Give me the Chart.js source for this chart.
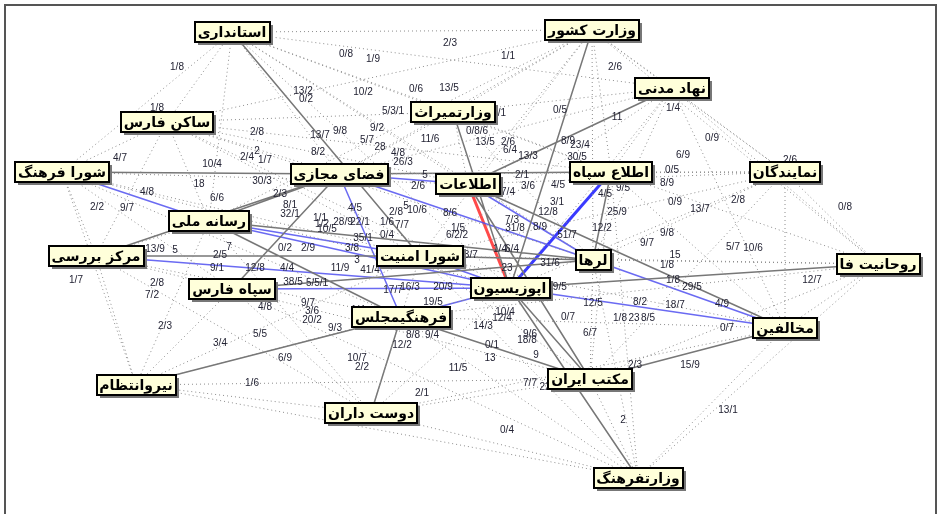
<!DOCTYPE html>
<html>
<head>
<meta charset="utf-8">
<script src="https://cdn.jsdelivr.net/npm/chart.js@4.4.0/dist/chart.umd.min.js"></script>
<style>
  html, body { margin: 0; padding: 0; background: #fff; }
  #wrap { width: 942px; height: 514px; }
</style>
</head>
<body>
<div id="wrap"><canvas id="myChart"></canvas></div>
<script>
// nodes of the network and their layout position
var nodes = ['استانداری', 'وزارت کشور', 'نهاد مدنی', 'ساکن فارس', 'وزارتمیراث', 'شورا فرهنگ',
  'فضای مجازی', 'اطلاعات', 'اطلاع سپاه', 'نمایندگان', 'رسانه ملی', 'مرکز بررسی', 'شورا امنیت',
  'لرها', 'روحانیت فا', 'سپاه فارس', 'اپوزیسیون', 'فرهنگیمجلس', 'مخالفین', 'نیروانتظام',
  'مکتب ایران', 'دوست داران', 'وزارتفرهنگ'];
var nodeX = [232, 592, 672, 167, 453, 62, 339, 468, 611, 785, 209, 96, 420, 593, 878, 232, 510, 401, 785, 136, 590, 371, 638];
var nodeY = [32, 30, 88, 122, 112, 172, 174, 184, 172, 172, 221, 256, 256, 260, 264, 289, 288, 317, 328, 385, 379, 413, 478];

// solid grey links
var greyEdges = [
  ['استانداری', 'شورا امنیت'], ['شورا فرهنگ', 'فضای مجازی'], ['فضای مجازی', 'اطلاع سپاه'],
  ['وزارت کشور', 'اپوزیسیون'], ['نهاد مدنی', 'اطلاعات'], ['وزارتمیراث', 'اپوزیسیون'],
  ['رسانه ملی', 'فضای مجازی'], ['مرکز بررسی', 'فضای مجازی'], ['سپاه فارس', 'فضای مجازی'],
  ['اطلاعات', 'مخالفین'], ['اطلاع سپاه', 'لرها'], ['اپوزیسیون', 'روحانیت فا'],
  ['فرهنگیمجلس', 'مکتب ایران'], ['اپوزیسیون', 'وزارتفرهنگ'], ['اپوزیسیون', 'مکتب ایران'],
  ['مکتب ایران', 'مخالفین'], ['فرهنگیمجلس', 'نیروانتظام'], ['فرهنگیمجلس', 'دوست داران'],
  ['شورا امنیت', 'لرها'], ['رسانه ملی', 'فرهنگیمجلس'], ['رسانه ملی', 'لرها'],
  ['سپاه فارس', 'لرها'], ['مرکز بررسی', 'شورا امنیت'], ['اطلاعات', 'مکتب ایران']
];
// blue links
var blueEdges = [
  ['شورا فرهنگ', 'رسانه ملی'], ['رسانه ملی', 'شورا امنیت'], ['رسانه ملی', 'اپوزیسیون'],
  ['مرکز بررسی', 'اپوزیسیون'], ['سپاه فارس', 'اپوزیسیون'], ['فضای مجازی', 'اطلاعات'],
  ['فضای مجازی', 'لرها'], ['اطلاعات', 'لرها'], ['فضای مجازی', 'فرهنگیمجلس'],
  ['لرها', 'مخالفین'], ['اپوزیسیون', 'مخالفین'], ['فرهنگیمجلس', 'اپوزیسیون'],
  ['شورا امنیت', 'اپوزیسیون']
];
var strongBlueEdges = [['اطلاع سپاه', 'اپوزیسیون']];
var redEdges = [['اطلاعات', 'اپوزیسیون']];

// dotted (weak) links
var dottedEdges = [
  ['استانداری', 'وزارت کشور'], ['استانداری', 'ساکن فارس'], ['استانداری', 'شورا فرهنگ'], ['استانداری', 'وزارتمیراث'],
  ['استانداری', 'اطلاعات'], ['استانداری', 'اطلاع سپاه'], ['استانداری', 'نهاد مدنی'], ['استانداری', 'لرها'],
  ['استانداری', 'اپوزیسیون'], ['استانداری', 'رسانه ملی'], ['استانداری', 'فضای مجازی'],
  ['وزارت کشور', 'وزارتمیراث'], ['وزارت کشور', 'نهاد مدنی'], ['وزارت کشور', 'نمایندگان'], ['وزارت کشور', 'اطلاعات'],
  ['وزارت کشور', 'فضای مجازی'], ['وزارت کشور', 'شورا امنیت'], ['وزارت کشور', 'لرها'], ['وزارت کشور', 'ساکن فارس'],
  ['وزارت کشور', 'روحانیت فا'], ['وزارت کشور', 'اطلاع سپاه'], ['وزارت کشور', 'رسانه ملی'],
  ['نهاد مدنی', 'نمایندگان'], ['نهاد مدنی', 'روحانیت فا'], ['نهاد مدنی', 'مخالفین'], ['نهاد مدنی', 'لرها'],
  ['نهاد مدنی', 'اپوزیسیون'], ['نهاد مدنی', 'وزارتمیراث'], ['نهاد مدنی', 'فضای مجازی'], ['نهاد مدنی', 'شورا امنیت'],
  ['نهاد مدنی', 'اطلاع سپاه'],
  ['ساکن فارس', 'شورا فرهنگ'], ['ساکن فارس', 'فضای مجازی'], ['ساکن فارس', 'اطلاعات'], ['ساکن فارس', 'رسانه ملی'],
  ['ساکن فارس', 'شورا امنیت'], ['ساکن فارس', 'وزارتمیراث'], ['ساکن فارس', 'مرکز بررسی'], ['ساکن فارس', 'اپوزیسیون'],
  ['ساکن فارس', 'لرها'], ['ساکن فارس', 'اطلاع سپاه'],
  ['شورا فرهنگ', 'مرکز بررسی'], ['شورا فرهنگ', 'نیروانتظام'], ['شورا فرهنگ', 'سپاه فارس'], ['شورا فرهنگ', 'شورا امنیت'],
  ['شورا فرهنگ', 'اپوزیسیون'], ['شورا فرهنگ', 'اطلاعات'], ['شورا فرهنگ', 'فرهنگیمجلس'],
  ['وزارتمیراث', 'اطلاعات'], ['وزارتمیراث', 'فضای مجازی'], ['وزارتمیراث', 'لرها'], ['وزارتمیراث', 'اطلاع سپاه'],
  ['نمایندگان', 'روحانیت فا'], ['نمایندگان', 'مخالفین'], ['نمایندگان', 'اپوزیسیون'], ['نمایندگان', 'لرها'],
  ['نمایندگان', 'اطلاعات'], ['نمایندگان', 'فضای مجازی'], ['نمایندگان', 'مکتب ایران'], ['نمایندگان', 'شورا امنیت'],
  ['نمایندگان', 'اطلاع سپاه'],
  ['روحانیت فا', 'مخالفین'], ['روحانیت فا', 'وزارتفرهنگ'], ['روحانیت فا', 'مکتب ایران'], ['روحانیت فا', 'لرها'],
  ['روحانیت فا', 'اطلاع سپاه'], ['روحانیت فا', 'شورا امنیت'], ['روحانیت فا', 'فرهنگیمجلس'],
  ['مخالفین', 'وزارتفرهنگ'], ['مخالفین', 'دوست داران'], ['مخالفین', 'فرهنگیمجلس'], ['مخالفین', 'شورا امنیت'],
  ['مخالفین', 'اطلاع سپاه'],
  ['وزارتفرهنگ', 'مکتب ایران'], ['وزارتفرهنگ', 'دوست داران'], ['وزارتفرهنگ', 'نیروانتظام'], ['وزارتفرهنگ', 'فرهنگیمجلس'],
  ['وزارتفرهنگ', 'شورا امنیت'], ['وزارتفرهنگ', 'سپاه فارس'], ['وزارتفرهنگ', 'لرها'], ['وزارتفرهنگ', 'اطلاع سپاه'],
  ['دوست داران', 'نیروانتظام'], ['دوست داران', 'سپاه فارس'], ['دوست داران', 'مرکز بررسی'], ['دوست داران', 'اپوزیسیون'],
  ['دوست داران', 'مکتب ایران'], ['دوست داران', 'شورا امنیت'], ['دوست داران', 'رسانه ملی'],
  ['نیروانتظام', 'مرکز بررسی'], ['نیروانتظام', 'سپاه فارس'], ['نیروانتظام', 'رسانه ملی'], ['نیروانتظام', 'شورا امنیت'],
  ['نیروانتظام', 'اپوزیسیون'], ['نیروانتظام', 'مکتب ایران'],
  ['مرکز بررسی', 'سپاه فارس'], ['مرکز بررسی', 'فرهنگیمجلس'], ['مرکز بررسی', 'رسانه ملی'],
  ['مکتب ایران', 'سپاه فارس'], ['مکتب ایران', 'شورا امنیت'], ['مکتب ایران', 'لرها'], ['مکتب ایران', 'اطلاع سپاه']
];

// link weights written on the picture: text, x, y
var edgeLabels = [
  ['1/8', 177, 67], ['13/2', 303, 91], ['0/2', 306, 99], ['1/8', 157, 108], ['2/8', 257, 132],
  ['13/7', 320, 135], ['9/8', 340, 131], ['4/7', 120, 158], ['10/4', 212, 164], ['2/4', 247, 157],
  ['2', 257, 151], ['1/7', 265, 160], ['30/3', 262, 181], ['18', 199, 184], ['4/8', 147, 192],
  ['6/6', 217, 198], ['2/3', 280, 194], ['2/2', 97, 207], ['9/7', 127, 208], ['8/1', 290, 205],
  ['32/1', 290, 214], ['13/9', 155, 249], ['5', 175, 250], ['2/5', 220, 255], ['7', 229, 247],
  ['0/2', 285, 248], ['2/9', 308, 248], ['2/3', 450, 43], ['0/8', 346, 54], ['1/9', 373, 59],
  ['1/1', 508, 56], ['2/6', 615, 67], ['10/2', 363, 92], ['0/6', 416, 89], ['13/5', 449, 88],
  ['5/3/1', 393, 111], ['/1', 502, 113], ['0/5', 560, 110], ['11', 617, 117], ['9/2', 377, 128],
  ['5/7', 367, 140], ['28', 380, 147], ['8/2', 318, 152], ['11/6', 430, 139], ['0/8/6', 477, 131],
  ['13/5', 485, 142], ['2/6', 508, 142], ['8/9', 568, 141], ['23/4', 580, 145], ['6/4', 510, 150],
  ['13/3', 528, 156], ['30/5', 577, 157], ['4/8', 398, 153], ['26/3', 403, 162], ['2/1', 522, 175],
  ['3/6', 528, 186], ['5', 425, 175], ['2/6', 418, 186], ['4/5', 558, 185], ['9/5', 623, 188],
  ['4/5', 605, 194], ['7/4', 508, 192], ['4/5', 355, 208], ['2/8', 396, 212], ['5', 406, 206],
  ['10/6', 417, 210], ['8/6', 450, 213], ['12/8', 548, 212], ['3/1', 557, 202], ['25/9', 617, 212],
  ['7/3', 512, 220], ['31/8', 515, 228], ['8/9', 540, 227], ['51/7', 567, 235], ['12/2', 602, 228],
  ['1/1', 320, 218], ['1/2', 322, 224], ['10/5', 327, 229], ['28/9', 343, 222], ['22/1', 360, 222],
  ['1/6', 387, 222], ['7/7', 402, 225], ['0/4', 387, 235], ['35/1', 363, 238], ['3/8', 352, 248],
  ['1/5', 458, 228], ['6/2/2', 457, 235], ['13/7', 468, 255], ['1/4', 500, 249], ['6/4', 512, 249],
  ['23', 507, 268], ['31/6', 550, 263], ['1/4', 673, 108], ['0/9', 712, 138], ['6/9', 683, 155],
  ['0/5', 672, 170], ['8/9', 667, 183], ['0/9', 675, 202], ['13/7', 700, 209], ['2/8', 738, 200],
  ['0/8', 845, 207], ['9/8', 667, 233], ['9/7', 647, 243], ['5/7', 733, 247], ['10/6', 753, 248],
  ['15', 675, 255], ['2/6', 790, 160], ['1/8', 667, 265], ['1/8', 673, 280], ['29/5', 692, 287],
  ['12/7', 812, 280], ['8/2', 640, 302], ['18/7', 675, 305], ['4/9', 722, 304], ['0/7', 727, 328],
  ['2/3', 635, 365], ['15/9', 690, 365], ['13/1', 728, 410], ['2', 623, 420], ['1/8', 620, 318],
  ['23', 634, 318], ['8/5', 648, 318], ['1/7', 76, 280], ['2/8', 157, 283], ['7/2', 152, 295],
  ['2/3', 165, 326], ['3/4', 220, 343], ['5/5', 260, 334], ['6/9', 285, 358], ['1/6', 252, 383],
  ['4/8', 265, 307], ['9/7', 308, 303], ['3/6', 312, 311], ['20/2', 312, 320], ['9/1', 217, 268],
  ['12/8', 255, 268], ['4/4', 287, 268], ['38/5', 293, 282], ['9/3', 335, 328], ['10/7', 357, 358],
  ['2/2', 362, 367], ['11/9', 340, 268], ['3', 357, 260], ['41/4', 370, 270], ['1/4', 358, 310],
  ['12/2', 402, 345], ['5/5/1', 317, 283], ['17/7', 393, 290], ['19/5', 433, 302], ['10/4', 505, 312],
  ['12/4', 502, 318], ['14/3', 483, 326], ['0/1', 492, 345], ['13', 490, 358], ['11/5', 458, 368],
  ['2/1', 422, 393], ['0/4', 507, 430], ['9', 536, 355], ['18/8', 527, 340], ['9/6', 530, 334],
  ['0/7', 568, 317], ['6/7', 590, 333], ['12/5', 593, 303], ['29/5', 557, 287], ['7/7', 530, 383],
  ['22', 545, 387], ['20/9', 443, 287], ['16/3', 410, 287], ['8/8', 413, 335], ['9/4', 432, 335]
];

// turn a list of links into line points, with a gap between links
function segs(list) {
  var out = [];
  list.forEach(function (e) {
    var a = nodes.indexOf(e[0]), b = nodes.indexOf(e[1]);
    out.push({ x: nodeX[a], y: nodeY[a] });
    out.push({ x: nodeX[b], y: nodeY[b] });
    out.push({ x: (nodeX[a] + nodeX[b]) / 2, y: null });
  });
  return out;
}

var nodePoints = nodes.map(function (n, i) { return { x: nodeX[i], y: nodeY[i] }; });
var labelPoints = edgeLabels.map(function (l) { return { x: l[1], y: l[2] }; });

var frame = {
  id: 'frame',
  beforeDraw: function (chart) {
    var c = chart.ctx;
    c.save();
    c.strokeStyle = '#555';
    c.lineWidth = 2;
    c.strokeRect(5, 5, 931, 530);
    c.restore();
  }
};

var boxes = {
  id: 'boxes',
  afterDatasetsDraw: function (chart) {
    var c = chart.ctx;
    c.save();
    // weights
    var lm = chart.getDatasetMeta(5);
    c.font = '10px "Liberation Sans", Arial, sans-serif';
    c.fillStyle = '#222233';
    c.textAlign = 'center';
    c.textBaseline = 'middle';
    lm.data.forEach(function (p, i) {
      c.fillText(edgeLabels[i][0], p.x, p.y);
    });
    // node boxes
    var nm = chart.getDatasetMeta(6);
    c.font = 'bold 14px "DejaVu Sans", sans-serif';
    c.direction = 'rtl';
    nm.data.forEach(function (p, i) {
      var w = Math.round(c.measureText(nodes[i]).width + 6);
      var h = 20;
      var x0 = Math.round(p.x - w / 2), y0 = Math.round(p.y - h / 2);
      c.fillStyle = '#777';
      c.fillRect(x0 + 3, y0 + 3, w, h);
      c.fillStyle = '#ffffda';
      c.fillRect(x0, y0, w, h);
      c.strokeStyle = '#000';
      c.lineWidth = 2;
      c.strokeRect(x0, y0, w, h);
      c.fillStyle = '#000';
      c.fillText(nodes[i], p.x, p.y + 1);
    });
    c.restore();
  }
};

var ctx = document.getElementById('myChart').getContext('2d');
var myChart = new Chart(ctx, {
  type: 'line',
  data: {
    datasets: [
      { data: segs(dottedEdges), borderColor: '#8c8c8c', borderWidth: 1, borderDash: [1, 3], pointRadius: 0, spanGaps: false },
      { data: segs(greyEdges), borderColor: '#777', borderWidth: 1.5, pointRadius: 0, spanGaps: false },
      { data: segs(blueEdges), borderColor: 'rgba(80,80,240,0.85)', borderWidth: 1.5, pointRadius: 0, spanGaps: false },
      { data: segs(strongBlueEdges), borderColor: '#3a3aff', borderWidth: 3, pointRadius: 0, spanGaps: false },
      { data: segs(redEdges), borderColor: '#ff4a4a', borderWidth: 3, pointRadius: 0, spanGaps: false },
      { data: labelPoints, showLine: false, pointRadius: 0 },
      { data: nodePoints, showLine: false, pointRadius: 0 }
    ]
  },
  options: {
    responsive: true,
    maintainAspectRatio: false,
    animation: false,
    layout: { padding: 0 },
    plugins: { legend: { display: false }, tooltip: { enabled: false } },
    scales: {
      x: { type: 'linear', min: 0, max: 942, display: false },
      y: { type: 'linear', min: 0, max: 514, reverse: true, display: false }
    }
  },
  plugins: [frame, boxes]
});
</script>
</body>
</html>
